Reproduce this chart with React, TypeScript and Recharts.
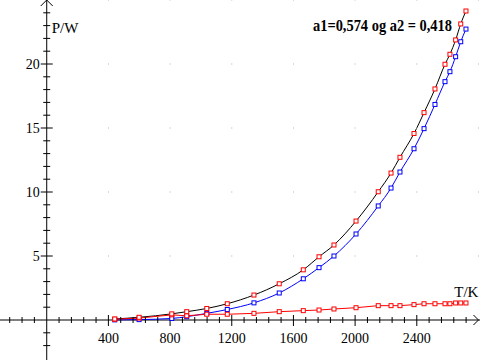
import {
  ComposedChart,
  Line,
  XAxis,
  YAxis,
  ReferenceLine,
  ReferenceDot,
} from "recharts";

// temperatures (K) of the measured points
const temps = [441, 599, 811, 908, 1038, 1171, 1344, 1508, 1664, 1766, 1863, 2006, 2150, 2233, 2291, 2382, 2447, 2518, 2583, 2615, 2652, 2685, 2719];
// upper red points (black fitted curve runs through them)
const p1 = [0.08, 0.21, 0.48, 0.65, 0.9, 1.27, 1.95, 2.83, 3.92, 4.94, 5.86, 7.73, 10.02, 11.48, 12.71, 14.57, 16.2, 18.05, 19.98, 20.76, 21.88, 23.13, 24.14];
// blue points
const p2 = [0.01, 0.03, 0.12, 0.26, 0.52, 0.82, 1.34, 2.11, 3.22, 4.09, 5.0, 6.72, 8.91, 10.31, 11.56, 13.38, 14.95, 16.84, 18.62, 19.4, 20.57, 21.74, 22.73];
// low red points
const p3 = [0.06, 0.15, 0.4, 0.33, 0.45, 0.45, 0.52, 0.65, 0.73, 0.78, 0.86, 0.96, 1.12, 1.12, 1.12, 1.2, 1.27, 1.27, 1.27, 1.27, 1.33, 1.33, 1.33];

const xTickLabels = [400, 800, 1200, 1600, 2000, 2400];
const yTickLabels = [5, 10, 15, 20];
const gridX = [400, 800, 1200, 1600, 2000, 2400, 2800];
const gridY = [5, 10, 15, 20, 25];

const xMinor: number[] = [];
for (let t = -240; t <= 2720; t += 80) if (t !== 0) xMinor.push(t);
const yMinor: number[] = [];
for (let p = -2; p <= 24; p++) if (p !== 0) yMinor.push(p);

const data = temps.map((T, i) => ({ T, p1: p1[i], p2: p2[i], p3: p3[i] }));

const FONT = "'Liberation Serif', 'Times New Roman', serif";

const square = (color: string) => (props: any) => {
  const { cx, cy, index } = props;
  if (cx == null || cy == null) return <g key={index} />;
  return (
    <rect key={index} x={cx - 2} y={cy - 2} width={4} height={4} fill="#fff" stroke={color} strokeWidth={1} />
  );
};

export default function App() {
  return (
    <div style={{ position: "absolute", left: 0, top: 0, background: "#fff" }}>
      <ComposedChart width={480} height={360} data={data} margin={{ top: 0, right: 0, bottom: 0, left: 0 }}>
        <XAxis type="number" dataKey="T" domain={[-303, 2810]} hide allowDataOverflow />
        <YAxis type="number" domain={[-3.125, 25]} hide allowDataOverflow />

        {gridX.flatMap((gx) =>
          gridY.map((gy) => (
            <ReferenceDot key={`g${gx}-${gy}`} x={gx} y={gy} ifOverflow="visible"
              shape={(p: any) => <rect x={p.cx - 0.5} y={p.cy - 0.5} width={1} height={1} fill="#b0b0b0" />} />
          ))
        )}

        <ReferenceLine x={0} stroke="#000" strokeWidth={1} />
        <ReferenceLine y={0} stroke="#000" strokeWidth={1} />

        {xMinor.map((t) => (
          <ReferenceDot key={`xt${t}`} x={t} y={0} ifOverflow="visible"
            shape={(p: any) => {
              const big = t % 400 === 0;
              return <line x1={p.cx} x2={p.cx} y1={p.cy - (big ? 5 : 3)} y2={p.cy + (big ? 6 : 3)} stroke="#000" strokeWidth={1} />;
            }} />
        ))}
        {yMinor.map((v) => (
          <ReferenceDot key={`yt${v}`} x={0} y={v} ifOverflow="visible"
            shape={(p: any) => {
              const big = v % 5 === 0;
              return <line x1={p.cx - (big ? 6 : 3.5)} x2={p.cx + (big ? 6 : 3.5)} y1={p.cy} y2={p.cy} stroke="#000" strokeWidth={1} />;
            }} />
        ))}
        {xTickLabels.map((t) => (
          <ReferenceDot key={`xl${t}`} x={t} y={0} ifOverflow="visible"
            shape={(p: any) => (
              <text x={p.cx} y={p.cy + 23} textAnchor="middle" fontFamily={FONT} fontSize={14} fill="#000">{t}</text>
            )} />
        ))}
        {yTickLabels.map((v) => (
          <ReferenceDot key={`yl${v}`} x={0} y={v} ifOverflow="visible"
            shape={(p: any) => (
              <text x={p.cx - 7} y={p.cy + 5} textAnchor="end" fontFamily={FONT} fontSize={14} fill="#000">{v}</text>
            )} />
        ))}

        {/* axis arrows and titles */}
        <ReferenceDot x={0} y={25} ifOverflow="visible"
          shape={(p: any) => <polyline points={`${p.cx - 6},${p.cy + 6} ${p.cx},${p.cy} ${p.cx + 6},${p.cy + 6}`} fill="none" stroke="#000" strokeWidth={1} />} />
        <ReferenceDot x={2800} y={0} ifOverflow="visible"
          shape={(p: any) => <polyline points={`${p.cx - 5},${p.cy - 5} ${p.cx},${p.cy} ${p.cx - 5},${p.cy + 5}`} fill="none" stroke="#000" strokeWidth={1} />} />
        <ReferenceDot x={0} y={22.4} ifOverflow="visible"
          shape={(p: any) => <text x={p.cx + 5} y={p.cy} fontFamily={FONT} fontSize={15} fill="#000">P/W</text>} />
        <ReferenceDot x={2800} y={0} ifOverflow="visible"
          shape={(p: any) => <text x={p.cx} y={p.cy - 23} textAnchor="end" fontFamily={FONT} fontSize={15} fill="#000">T/K</text>} />
        <ReferenceDot x={1727} y={22.58} ifOverflow="visible"
          shape={(p: any) => (
            <text x={p.cx} y={p.cy} fontFamily={FONT} fontSize={16} fontWeight="bold" fill="#000" textLength={139} lengthAdjust="spacingAndGlyphs">
              a1=0,574 og a2 = 0,418
            </text>
          )} />

        <Line dataKey="p1" type="monotone" stroke="#000" strokeWidth={1} dot={false} activeDot={false} isAnimationActive={false} />
        <Line dataKey="p2" type="monotone" stroke="#0000ff" strokeWidth={1} dot={square("#0000ff")} activeDot={false} isAnimationActive={false} />
        <Line dataKey="p3" type="linear" stroke="#ff0000" strokeWidth={1} dot={square("#ff0000")} activeDot={false} isAnimationActive={false} />
        <Line dataKey="p1" type="monotone" stroke="none" strokeWidth={0} dot={square("#ff0000")} activeDot={false} isAnimationActive={false} />
      </ComposedChart>
    </div>
  );
}
